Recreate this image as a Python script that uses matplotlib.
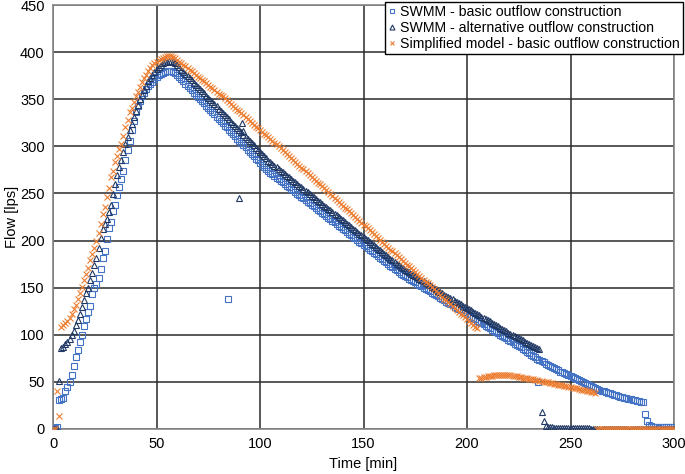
import numpy as np
import matplotlib
matplotlib.use("Agg")
import matplotlib.pyplot as plt

plt.rcParams['font.family'] = ['Liberation Sans', 'DejaVu Sans']

# time step of 1 min, 0..300
time_min = list(range(0, 301))

swmm_basic = [
    0, 1, 2.5, 31, 32, 33, 40, 45, 50, 57,
    67, 76, 84, 92, 100, 109, 117, 124, 131, 143,
    150, 154, 160, 170, 181, 189, 202, 213, 220, 231,
    238, 248, 257, 265, 274, 285, 296, 306, 317, 327,
    336, 343, 348, 353, 357, 361, 364, 366, 368, 371,
    373.5, 375.5, 377, 378, 379, 379.5, 380, 379.5, 379, 377.5,
    376, 373.5, 371, 369, 366.5, 364, 362, 359.5, 357, 355,
    352.5, 350, 348, 345.5, 343, 341, 338.5, 336, 334, 331.5,
    329, 327, 324.5, 322, 320, 317.5, 315, 313, 310.5, 308,
    306, 303.5, 301, 299, 296.5, 294, 292, 289.5, 287, 285,
    282.5, 280, 278, 276, 274, 272, 270.3, 268.6, 266.9, 265.2,
    263.5, 261.8, 260.1, 258.4, 256.7, 255, 253.3, 251.6, 249.9, 248.2,
    246.5, 244.8, 243.1, 241.4, 239.7, 238, 236.3, 234.6, 232.9, 231.2,
    229.5, 227.8, 226.1, 224.4, 222.7, 221, 219.3, 217.6, 215.9, 214.2,
    212.5, 210.8, 209.1, 207.4, 205.7, 204, 202.3, 200.6, 198.9, 197.2,
    195.5, 193.8, 192.1, 190.4, 188.7, 187, 185.3, 183.6, 181.9, 180.2,
    178.5, 176.8, 175.1, 173.4, 171.7, 170, 168.3, 166.6, 165, 163.6,
    162.3, 160.9, 159.6, 158.2, 156.9, 155.5, 154.2, 152.8, 151.5, 150.1,
    148.8, 147.4, 146.1, 144.7, 143.4, 142, 140.7, 139.3, 138, 136.6,
    135.3, 133.9, 132.6, 131.2, 129.9, 128.5, 127.2, 125.8, 124.5, 123.1,
    121.8, 120.4, 119.1, 117.7, 116.4, 115, 113.7, 112.3, 111, 109.6,
    108.3, 106.9, 105.6, 104.2, 102.9, 101.5, 100.2, 98.8, 97.5, 96.1,
    94.8, 93.4, 92.1, 90.7, 89.4, 88, 86.5, 85, 83.5, 82,
    80.5, 79, 77.5, 76, 74.5, 73, 71.8, 70.6, 69.4, 68.2,
    67, 65.8, 64.6, 63.4, 62.2, 61, 60, 59, 58, 57,
    56, 55, 53.9, 52.8, 51.7, 50.6, 49.6, 48.6, 47.6, 46.6,
    45.6, 44.6, 43.6, 42.5, 41.4, 40.7, 40, 39.3, 38.6, 37.9,
    37.2, 36.5, 35.8, 35.1, 34.4, 33.8, 33.3, 32.7, 32.2, 31.6,
    31.1, 30.5, 30, 29.4, 28.9, 28.3, 16, 8, 4, 3,
    2, 2, 2, 2, 2, 2, 2, 2, 2, 2,
    2,
]

swmm_alt = [
    0, 0, 0, 51, 86, 87.5, 90, 92, 96, 100,
    104, 110, 116, 122, 129, 137, 144, 150, 158, 166,
    174, 182, 192, 203, 212, 218, 223, 230, 238, 249,
    260, 270, 278, 286, 294, 302, 310, 317, 324, 331,
    338, 344, 350, 355, 360, 364, 369, 373, 376, 379,
    382, 384, 386, 388, 389, 390, 391, 391, 390, 388,
    386, 383.7, 381.4, 379.1, 376.8, 374.5, 372.2, 369.9, 367.6, 365.3,
    363, 360.7, 358.4, 356.1, 353.8, 351.5, 349.2, 346.9, 344.6, 342.3,
    340, 337.7, 335.4, 333.1, 330.8, 328.5, 326.2, 323.9, 321.6, 319.3,
    317, 314.7, 312.4, 310.1, 307.8, 305.5, 303.2, 300.9, 298.6, 296.3,
    294, 291.7, 289.4, 287.1, 284.8, 283, 281.2, 279.5, 277.7, 276,
    274.2, 272.4, 270.7, 268.9, 267.2, 265.4, 263.6, 261.9, 260.1, 258.4,
    256.6, 254.8, 253.1, 251.3, 249.6, 247.8, 246, 244.3, 242.5, 240.8,
    239, 237.2, 235.5, 233.7, 232, 230.2, 228.4, 226.7, 224.9, 223.2,
    221.4, 219.6, 217.9, 216.1, 214.4, 212.6, 210.8, 209.1, 207.3, 205.6,
    203.8, 202, 200.3, 198.5, 196.8, 195, 193.2, 191.5, 189.7, 188,
    186.2, 184.4, 182.7, 180.9, 179.2, 177.4, 175.6, 173.9, 172, 170.6,
    169.2, 167.8, 166.4, 165, 163.6, 162.2, 160.8, 159.4, 158, 156.6,
    155.2, 153.8, 152.4, 151, 149.6, 148.2, 146.8, 145.4, 144, 142.7,
    141.4, 140.1, 138.8, 137.5, 136.2, 134.9, 133.6, 132.3, 131, 129.7,
    128.4, 127.1, 125.8, 124.5, 123.2, 121.9, 120.6, 119.3, 118, 116.7,
    115.4, 114.1, 112.8, 111.5, 110.2, 108.9, 107.6, 106.3, 105, 103.7,
    102.4, 101.2, 100, 98.8, 97.6, 96.4, 95.2, 94, 92.8, 91.7,
    90.6, 89.5, 88.4, 87.4, 86.4, 85.4, 18, 8, 3, 2,
    2, 2, 1.5, 1.5, 1.5, 1.5, 1.5, 1.5, 1, 1,
    1, 1, 1, 1, 1, 1, 1, 1, 1, 1,
    0, 0, 0, 0, 0, 0, 0, 0, 0, 0,
    0, 0, 0, 0, 0, 0, 0, 0, 0, 0,
    0, 0, 0, 0, 0, 0, 0, 0, 0, 0,
    0, 0, 0, 0, 0, 0, 0, 0, 0, 0,
    0,
]

simplified = [
    0, 0, 40, 14, 108, 110, 113, 115, 118, 122,
    127, 132, 138, 144, 151, 158, 164, 171, 179, 186,
    192, 199, 208, 218, 228, 236, 246, 256, 267, 274,
    283, 290, 297, 303, 311, 320, 328, 336, 341, 347,
    353, 358, 363, 368, 372, 376, 380, 383, 386, 388,
    390, 392, 393, 394, 395, 396, 396, 396, 395, 394,
    392, 390, 388, 386.5, 385, 383, 381, 379.5, 378, 376,
    374, 372, 370.5, 369, 367, 365, 363, 361.5, 360, 358,
    356, 354.5, 353, 351, 349, 347, 345, 343, 341, 339,
    337, 335, 333, 331, 329, 327, 325, 323, 321, 319.5,
    317.5, 315.5, 313.5, 311.5, 309.5, 308, 306, 304, 302, 300,
    298, 296, 294, 292, 290, 288, 285.5, 283.5, 281.5, 279.5,
    277.5, 275.5, 273.5, 271.5, 269.5, 267.5, 265.5, 263.5, 261.5, 259.5,
    257.5, 255.5, 253.5, 251.5, 249.5, 247.5, 245, 243, 241, 239,
    237, 235, 233, 231, 229, 227, 225, 223, 221, 219,
    217, 215, 213, 211, 209, 207, 204.5, 202.5, 200.5, 198.5,
    196.5, 194.5, 192.5, 190.5, 188.5, 186.5, 184.5, 182.5, 180.5, 178.5,
    176.5, 174.5, 172.5, 170.5, 168.5, 166.5, 164.5, 162.5, 160.5, 158.5,
    156.5, 154.5, 152.5, 150.5, 148.5, 146.5, 144.5, 142.5, 140.5, 138.5,
    136.5, 134.5, 132.5, 130.5, 128.5, 126.5, 124.5, 122.5, 120.5, 118.5,
    116.5, 114.5, 112.5, 110.5, 108.5, 107, 54, 54.5, 55, 55.5,
    56, 56.3, 56.6, 56.8, 57, 57.2, 57.3, 57.3, 57.3, 57.2,
    57, 56.8, 56.5, 56.2, 55.8, 55.4, 55, 54.6, 54.2, 53.8,
    53.4, 53, 52.6, 52.1, 51.7, 51.2, 50.8, 50.3, 49.9, 49.4,
    49, 48.5, 48.1, 47.6, 47.2, 46.7, 46.3, 45.8, 45.4, 44.9,
    44.5, 44, 43.5, 43, 42.4, 41.9, 41.4, 40.9, 40.3, 39.8,
    39.3, 38.8, 38.2, 0, 0, 0, 0, 0, 0, 0,
    0, 0, 0, 0, 0, 0, 0, 0, 0, 0,
    0, 0, 0, 0, 0, 0, 0, 0, 0, 0,
    0, 0, 0, 0, 0, 0, 0, 0, 0, 0,
    0,
]

# single stray points
basic_extra_t = [84.7, 234.5]
basic_extra_v = [138, 49.5]
alt_extra_t = [90, 91.2, 92]
alt_extra_v = [245, 324.5, 316]

labels = ['SWMM - basic outflow construction',
          'SWMM - alternative outflow construction',
          'Simplified model - basic outflow construction']

fig = plt.figure(figsize=(6.85, 4.74), dpi=100)
ax = fig.add_axes([53 / 685, 1 - 429 / 474, 621 / 685, 424 / 474])

t_basic = time_min + basic_extra_t
t_alt = time_min + alt_extra_t
ax.plot(t_basic, swmm_basic + basic_extra_v, linestyle='none', marker='s',
        markersize=4.8, markerfacecolor='none', markeredgecolor='#4472C4',
        markeredgewidth=0.8, label=labels[0], zorder=3)
ax.plot(t_alt, swmm_alt + alt_extra_v, linestyle='none', marker='^',
        markersize=4.8, markerfacecolor='none', markeredgecolor='#203864',
        markeredgewidth=0.8, label=labels[1], zorder=4)
ax.plot(time_min, simplified, linestyle='none', marker='x',
        markersize=3.8, color='#ED7D31', markeredgewidth=0.8,
        label=labels[2], zorder=5)

ax.set_xlim(0, 300)
ax.set_ylim(0, 450)
ax.set_xticks(np.arange(0, 301, 50))
ax.set_yticks(np.arange(0, 451, 50))
ax.grid(True, color='#2a2a2a', linewidth=1.1)
ax.set_axisbelow(True)
ax.tick_params(length=0, labelsize=10.5, pad=6)
for s in ax.spines.values():
    s.set_color('#888888')
    s.set_linewidth(1.2)

ax.set_xlabel('Time [min]', fontsize=10.5, labelpad=4)
ax.set_ylabel('Flow [lps]', fontsize=10.5, labelpad=1)

leg = ax.legend(loc='upper right', bbox_to_anchor=(683 / 685, 1 - 2 / 474),
                bbox_transform=fig.transFigure, fontsize=10.2, frameon=True,
                fancybox=False, framealpha=1, edgecolor='black',
                borderpad=0.2, labelspacing=0.15, handlelength=0.6,
                handletextpad=0.3, borderaxespad=0, markerscale=0.75)
leg.get_frame().set_linewidth(1.0)

fig.savefig('out.png', dpi=100)
